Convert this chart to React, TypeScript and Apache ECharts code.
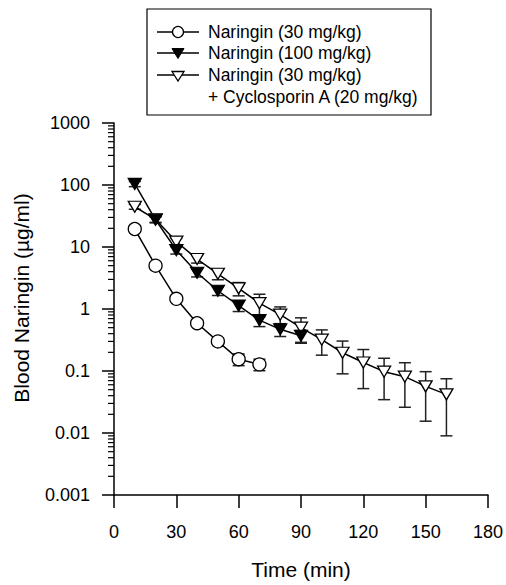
import { useEffect, useRef } from 'react';
import * as echarts from 'echarts';

// ---- data ----
const time30 = [10, 20, 30, 40, 50, 60, 70];
const naringin30 = [19.5, 5.0, 1.46, 0.59, 0.3, 0.155, 0.128];
const naringin30Sd = [1.5, 0.4, 0.12, 0.05, 0.025, 0.033, 0.027];

const time100 = [10, 20, 30, 40, 50, 60, 70, 80, 90];
const naringin100 = [104, 27.5, 8.9, 3.84, 1.97, 1.13, 0.66, 0.47, 0.37];
const naringin100Sd = [10, 3, 1.2, 0.55, 0.32, 0.22, 0.14, 0.11, 0.08];

const timeCsA = [10, 20, 30, 40, 50, 60, 70, 80, 90, 100, 110, 120, 130, 140, 150, 160];
const naringinCsA = [44.6, 28, 12.2, 6.4, 3.7, 2.15, 1.24, 0.81, 0.5, 0.32, 0.197, 0.137, 0.0975, 0.081, 0.0565, 0.042];
const naringinCsASd = [4, 3, 1.5, 0.9, 0.74, 0.52, 0.49, 0.27, 0.22, 0.14, 0.107, 0.085, 0.063, 0.055, 0.041, 0.033];

const xTickValues = [0, 30, 60, 90, 120, 150, 180];
const yTickLabels = ['0.001', '0.01', '0.1', '1', '10', '100', '1000'];
const legendLabels = [
  'Naringin (30 mg/kg)',
  'Naringin (100 mg/kg)',
  'Naringin (30 mg/kg)',
  '+ Cyclosporin A (20 mg/kg)',
];
const xTitle = 'Time (min)';
const yTitle = 'Blood Naringin (\u00b5g/ml)';

const FONT = '"Liberation Sans", Arial, Helvetica, sans-serif';

export default function App() {
  const ref = useRef<HTMLDivElement>(null);

  useEffect(() => {
    if (!ref.current) return;
    const chart = echarts.init(ref.current, null, { renderer: 'svg' });

    const yVals = yTickLabels.map(Number);
    const minorVals: number[] = [];
    for (let i = 0; i < yVals.length - 1; i++) {
      for (let m = 2; m <= 9; m++) minorVals.push(+(m * yVals[i]).toPrecision(3));
    }

    const errStyle = { stroke: '#222', lineWidth: 1.5 };
    const errorBars = (xs: number[], ys: number[], sds: number[], name: string) => ({
      type: 'custom',
      name,
      z: 1,
      silent: true,
      clip: false,
      data: xs.map((t, i) => [t, ys[i], sds[i]]),
      encode: { x: 0, y: 1 },
      renderItem: (_p: any, api: any) => {
        const t = api.value(0);
        const m = api.value(1);
        const sd = api.value(2);
        const top = api.coord([t, m + sd]);
        const bot = api.coord([t, Math.max(m - sd, 0.0011)]);
        const h = 6;
        return {
          type: 'group',
          children: [
            { type: 'line', shape: { x1: top[0], y1: top[1], x2: bot[0], y2: bot[1] }, style: errStyle },
            { type: 'line', shape: { x1: top[0] - h, y1: top[1], x2: top[0] + h, y2: top[1] }, style: errStyle },
            { type: 'line', shape: { x1: bot[0] - h, y1: bot[1], x2: bot[0] + h, y2: bot[1] }, style: errStyle },
          ],
        };
      },
    });

    const lineSeries = (xs: number[], ys: number[], symbol: string, size: any, rotate: number, fill: string) => ({
      type: 'line',
      z: 3,
      data: xs.map((t, i) => [t, ys[i]]),
      symbol,
      symbolSize: size,
      symbolRotate: rotate,
      showAllSymbol: true,
      lineStyle: { color: '#000', width: 1.5 },
      itemStyle: { color: fill, borderColor: '#000', borderWidth: 1.3 },
      emphasis: { disabled: true },
    });

    const lx1 = 157;
    const lx2 = 199;
    const lcx = 178;
    const rows = [32, 53, 75, 96.5];

    chart.setOption({
      animation: false,
      backgroundColor: '#fff',
      grid: { left: 114, right: 17, top: 123, bottom: 83, containLabel: false },
      xAxis: {
        type: 'value',
        min: xTickValues[0],
        max: xTickValues[xTickValues.length - 1],
        interval: 30,
        axisLine: { show: true, lineStyle: { color: '#000', width: 1.5 } },
        axisTick: { show: true, inside: false, length: 13, lineStyle: { color: '#000', width: 1.5 } },
        axisLabel: { show: true, fontSize: 18, color: '#000', fontFamily: FONT, margin: 28 },
        splitLine: { show: false },
        name: xTitle,
        nameLocation: 'middle',
        nameGap: 64,
        nameTextStyle: { fontSize: 21, color: '#000', fontFamily: FONT },
      },
      yAxis: {
        type: 'log',
        logBase: 10,
        min: yVals[0],
        max: yVals[yVals.length - 1],
        splitNumber: 6,
        axisLine: { show: true, onZero: false, lineStyle: { color: '#000', width: 1.5 } },
        axisTick: { show: true, inside: false, length: 12, lineStyle: { color: '#000', width: 1.5 } },
        axisLabel: {
          show: true,
          fontSize: 18,
          color: '#000',
          fontFamily: FONT,
          margin: 24,
          formatter: (v: number) => {
            const idx = yVals.findIndex((y) => Math.abs(Math.log10(y) - Math.log10(v)) < 1e-6);
            return idx >= 0 ? yTickLabels[idx] : '';
          },
        },
        splitLine: { show: false },
        name: yTitle,
        nameLocation: 'middle',
        nameGap: 82,
        nameTextStyle: { fontSize: 21, color: '#000', fontFamily: FONT, padding: [0, 0, 0, 22] },
      },
      series: [
        {
          type: 'custom',
          name: 'minorTicks',
          silent: true,
          clip: false,
          z: 1,
          data: minorVals.map((v) => [0, v]),
          encode: { x: 0, y: 1 },
          renderItem: (_p: any, api: any) => {
            const p = api.coord([api.value(0), api.value(1)]);
            return {
              type: 'line',
              shape: { x1: p[0] - 6, y1: p[1], x2: p[0], y2: p[1] },
              style: { stroke: '#000', lineWidth: 1.2 },
            };
          },
        },
        errorBars(time30, naringin30, naringin30Sd, 'err30'),
        errorBars(time100, naringin100, naringin100Sd, 'err100'),
        errorBars(timeCsA, naringinCsA, naringinCsASd, 'errCsA'),
        lineSeries(timeCsA, naringinCsA, 'triangle', [13, 11], 180, '#fff'),
        lineSeries(time100, naringin100, 'triangle', [13, 11], 180, '#000'),
        lineSeries(time30, naringin30, 'circle', 13, 0, '#fff'),
      ],
      graphic: [
        {
          type: 'group',
          children: [
            { type: 'rect', shape: { x: 147, y: 9, width: 284, height: 106 }, style: { fill: '#fff', stroke: '#000', lineWidth: 1.2 } },
            { type: 'line', shape: { x1: lx1, y1: rows[0], x2: lx2, y2: rows[0] }, style: { stroke: '#000', lineWidth: 1.5 } },
            { type: 'circle', shape: { cx: lcx, cy: rows[0], r: 5.5 }, style: { fill: '#fff', stroke: '#000', lineWidth: 1.3 } },
            { type: 'line', shape: { x1: lx1, y1: rows[1], x2: lx2, y2: rows[1] }, style: { stroke: '#000', lineWidth: 1.5 } },
            { type: 'polygon', shape: { points: [[lcx - 6, rows[1] - 4.5], [lcx + 6, rows[1] - 4.5], [lcx, rows[1] + 5.5]] }, style: { fill: '#000', stroke: '#000', lineWidth: 1 } },
            { type: 'line', shape: { x1: lx1, y1: rows[2], x2: lx2, y2: rows[2] }, style: { stroke: '#000', lineWidth: 1.5 } },
            { type: 'polygon', shape: { points: [[lcx - 6, rows[2] - 3.5], [lcx + 6, rows[2] - 3.5], [lcx, rows[2] + 6]] }, style: { fill: '#fff', stroke: '#000', lineWidth: 1.3 } },
            ...legendLabels.map((t, i) => ({
              type: 'text',
              style: { text: t, x: 208, y: rows[i], verticalAlign: 'middle', fontSize: 17.5, fontFamily: FONT, fill: '#000' },
            })),
          ],
        },
      ],
    });

    return () => chart.dispose();
  }, []);

  return <div ref={ref} style={{ position: 'fixed', left: 0, top: 0, width: 506, height: 585, background: '#fff' }} />;
}
